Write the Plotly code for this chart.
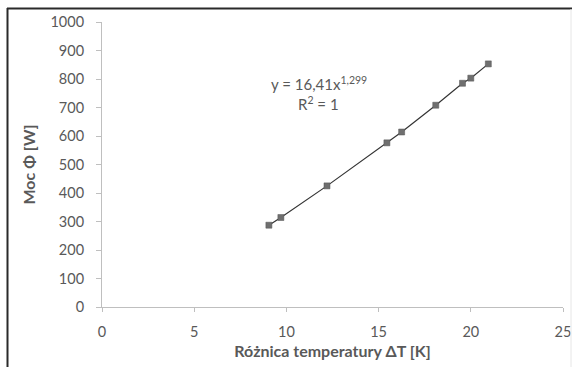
import plotly.graph_objects as go

# Data
delta_t = [9.05, 9.7, 12.2, 15.45, 16.25, 18.1, 19.55, 20.0, 20.95]
power = [287, 314, 425, 576, 614, 708, 785, 803, 853]

x_ticks = [0, 5, 10, 15, 20, 25]
y_ticks = [0, 100, 200, 300, 400, 500, 600, 700, 800, 900, 1000]

equation_text = "y = 16,41x<sup>1,299</sup>"
r2_text = "R<sup>2</sup> = 1"
x_title = "Różnica temperatury ΔT [K]"
y_title = "Moc Φ [W]"

FONT = "Lato, 'Liberation Sans', sans-serif"
GRAY = "#595959"

fig = go.Figure()
fig.add_trace(go.Scatter(
    x=delta_t, y=power, mode="lines+markers",
    line=dict(color="#333333", width=1.2),
    marker=dict(symbol="square", size=6, color="#6f6f6f",
                line=dict(color="#555555", width=0.5)),
    showlegend=False, hoverinfo="skip",
))

L, R, T, B = 102, 17, 22, 60
W, H = 580, 367
pw, ph = W - L - R, H - T - B


def px(xp):
    return (xp - L) / pw


def py(yp):
    return (H - B - yp) / ph


fig.update_layout(
    width=W, height=H,
    margin=dict(l=L, r=R, t=T, b=B),
    paper_bgcolor="white", plot_bgcolor="white",
    font=dict(family=FONT, color=GRAY, size=14),
    xaxis=dict(
        range=[0, 25], tickvals=x_ticks, showgrid=False, zeroline=False,
        showline=True, linecolor="#bfbfbf", linewidth=1, automargin=False,
        ticks="outside", ticklen=4, tickcolor="#bfbfbf",
        ticklabelstandoff=8,
        tickfont=dict(size=14.5, color=GRAY, family=FONT),
        title=dict(text="<b>" + x_title + "</b>", font=dict(size=16, color=GRAY, family=FONT), standoff=6),
    ),
    yaxis=dict(
        range=[0, 1000], tickvals=y_ticks, showgrid=False, zeroline=False,
        showline=True, linecolor="#bfbfbf", linewidth=1, automargin=False,
        ticks="outside", ticklen=5, tickcolor="#bfbfbf",
        ticklabelstandoff=9,
        tickfont=dict(size=14.5, color=GRAY, family=FONT),
        title=dict(text="<b>" + y_title + "</b>", font=dict(size=16, color=GRAY, family=FONT), standoff=10),
    ),
    shapes=[
        dict(type="line", xref="paper", yref="paper", x0=px(7), x1=px(572), y0=py(8.5), y1=py(8.5),
             line=dict(color="#2a2a2a", width=2)),
        dict(type="line", xref="paper", yref="paper", x0=px(7.5), x1=px(7.5), y0=py(8), y1=py(370),
             line=dict(color="#2a2a2a", width=2)),
        dict(type="line", xref="paper", yref="paper", x0=px(571), x1=px(571), y0=py(9), y1=py(370),
             line=dict(color="#e6e6e6", width=1)),
    ],
    annotations=[
        dict(text=equation_text, xref="paper", yref="paper", x=px(319), y=py(72),
             showarrow=False, font=dict(size=15, color=GRAY, family=FONT)),
        dict(text=r2_text, xref="paper", yref="paper", x=px(318), y=py(92),
             showarrow=False, font=dict(size=15, color=GRAY, family=FONT)),
    ],
)

fig.write_html("out.html")
